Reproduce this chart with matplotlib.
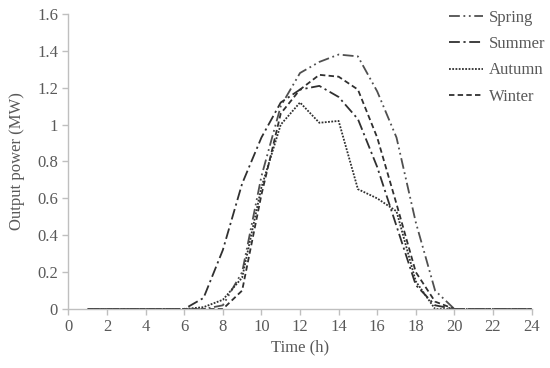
import numpy as np
import matplotlib
matplotlib.use('Agg')
import matplotlib.pyplot as plt

# Hourly output power (MW), hours 1..24
hours = list(range(1, 25))
spring = [0, 0, 0, 0, 0, 0, 0, 0.02, 0.2, 0.72, 1.1, 1.28, 1.34, 1.38, 1.37, 1.18,
          0.93, 0.47, 0.1, 0, 0, 0, 0, 0]
summer = [0, 0, 0, 0, 0, 0, 0.06, 0.32, 0.68, 0.93, 1.12, 1.19, 1.21, 1.15, 1.03, 0.77,
          0.45, 0.13, 0.02, 0, 0, 0, 0, 0]
autumn = [0, 0, 0, 0, 0, 0, 0.01, 0.05, 0.17, 0.66, 1.0, 1.12, 1.01, 1.02, 0.65, 0.6,
          0.53, 0.15, 0, 0, 0, 0, 0, 0]
winter = [0, 0, 0, 0, 0, 0, 0, 0, 0.1, 0.62, 1.06, 1.19, 1.27, 1.26, 1.19, 0.93,
          0.57, 0.2, 0.04, 0, 0, 0, 0, 0]

series_names = ['Spring', 'Summer', 'Autumn', 'Winter']
xticks = list(range(0, 25, 2))
yticks = [0, 0.2, 0.4, 0.6, 0.8, 1.0, 1.2, 1.4, 1.6]

text_col = '#595959'
axis_col = '#bfbfbf'
plt.rcParams['font.family'] = ['Liberation Serif', 'DejaVu Serif']

fig = plt.figure(figsize=(5.5, 3.68), dpi=100)
ax = fig.add_axes([0.1245, 0.1603, 0.842, 0.8017])

# line styles per season
styles = [
    dict(color='#505050', linestyle=(0, (6, 2, 1, 2, 1, 2))),
    dict(color='#303030', linestyle=(0, (6, 2, 1.2, 2))),
    dict(color='#303030', linestyle=(0, (1, 0.8))),
    dict(color='#303030', linestyle=(0, (3, 1.8))),
]
for data, name, st in zip([spring, summer, autumn, winter], series_names, styles):
    ax.plot(hours, data, lw=1.3, label=name, **st)

ax.set_xlim(0, 24)
ax.set_ylim(0, 1.6)
ax.set_xticks(xticks)
ax.set_yticks(yticks)
ax.set_yticklabels([f'{v:g}' for v in yticks])

for s in ['top', 'right']:
    ax.spines[s].set_visible(False)
for s in ['left', 'bottom']:
    ax.spines[s].set_color(axis_col)
    ax.spines[s].set_linewidth(1.0)
ax.tick_params(axis='both', colors=axis_col, labelcolor=text_col, labelsize=12,
               length=4, width=1.0)

ax.set_xlabel('Time (h)', color=text_col, fontsize=12, labelpad=3)
ax.set_ylabel('Output power (MW)', color=text_col, fontsize=12, labelpad=9)

leg = ax.legend(loc='upper left', bbox_to_anchor=(0.79, 1.065), frameon=False,
                fontsize=12, handlelength=2.0, handletextpad=0.4, labelspacing=0.62)
for t in leg.get_texts():
    t.set_color(text_col)

fig.savefig('out.png', dpi=100)
